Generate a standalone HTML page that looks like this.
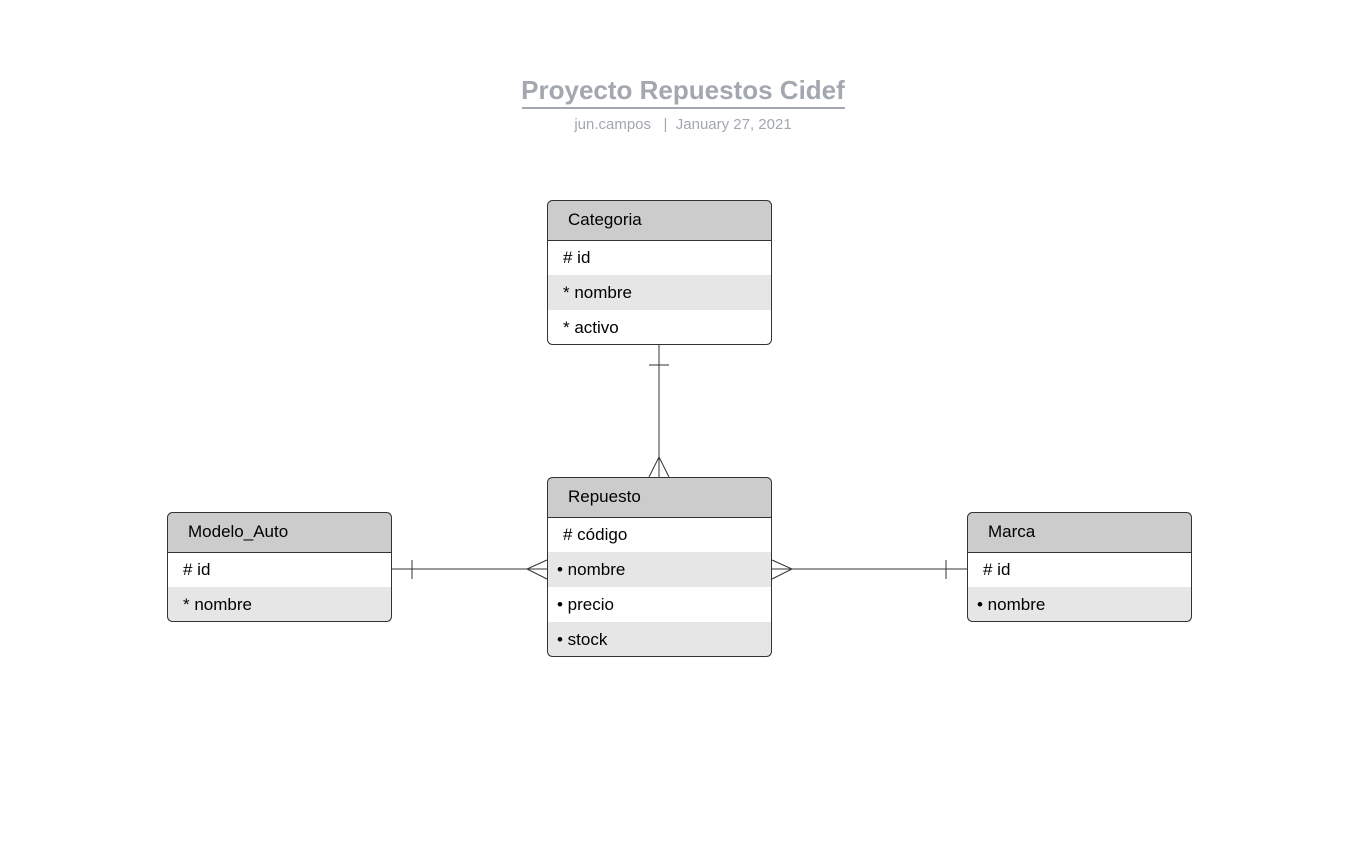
<!DOCTYPE html>
<html><head><style>body{margin:0;background:#fff}</style></head><body>
<svg width="1360" height="836" xmlns="http://www.w3.org/2000/svg" font-family="Liberation Sans, sans-serif">
<rect width="1360" height="836" fill="#fff"/>
<text x="683" y="99" text-anchor="middle" font-size="26" font-weight="bold" fill="#a3a7b0">Proyecto Repuestos Cidef</text>
<line x1="522" y1="108" x2="845" y2="108" stroke="#a3a7b0" stroke-width="2"/>
<text x="683" y="129" text-anchor="middle" font-size="15" fill="#a3a7b0" xml:space="preserve">jun.campos   |  January 27, 2021</text>
<g stroke="#333" stroke-width="1" fill="none">
<line x1="659" y1="345" x2="659" y2="477"/><line x1="649" y1="365" x2="669" y2="365"/>
<polyline points="649,477 659,457 669,477"/>
<line x1="392" y1="569" x2="547" y2="569"/><line x1="412" y1="560" x2="412" y2="579"/>
<polyline points="547,560 527,569 547,579"/>
<line x1="772" y1="569" x2="967" y2="569"/><line x1="946" y1="560" x2="946" y2="579"/>
<polyline points="772,560 792,569 772,579"/>
</g>
<g font-size="17" fill="#000">
<!-- Categoria -->
<rect x="547.5" y="200.5" width="224" height="144" rx="5" fill="#fff"/>
<path d="M547.5 240.5V205.5a5 5 0 0 1 5-5h214a5 5 0 0 1 5 5V240.5Z" fill="#cccccc"/>
<rect x="548" y="275" width="223" height="35" fill="#e6e6e6"/>
<rect x="547.5" y="200.5" width="224" height="144" rx="5" fill="none" stroke="#333"/>
<line x1="547.5" y1="240.5" x2="771.5" y2="240.5" stroke="#333"/>
<text x="568" y="225">Categoria</text>
<text x="563" y="263"># id</text><text x="563" y="298">* nombre</text><text x="563" y="333">* activo</text>
<!-- Repuesto -->
<path d="M547.5 517.5V482.5a5 5 0 0 1 5-5h214a5 5 0 0 1 5 5V517.5Z" fill="#cccccc"/>
<rect x="548" y="552" width="223" height="35" fill="#e6e6e6"/>
<rect x="548" y="622" width="223" height="34" fill="#e6e6e6"/>
<rect x="547.5" y="477.5" width="224" height="179" rx="5" fill="none" stroke="#333"/>
<line x1="547.5" y1="517.5" x2="771.5" y2="517.5" stroke="#333"/>
<text x="568" y="502">Repuesto</text>
<text x="563" y="540"># código</text><text x="557" y="575">• nombre</text><text x="557" y="610">• precio</text><text x="557" y="645">• stock</text>
<!-- Modelo_Auto -->
<path d="M167.5 552.5V517.5a5 5 0 0 1 5-5h214a5 5 0 0 1 5 5V552.5Z" fill="#cccccc"/>
<rect x="168" y="587" width="223" height="34" fill="#e6e6e6"/>
<rect x="167.5" y="512.5" width="224" height="109" rx="5" fill="none" stroke="#333"/>
<line x1="167.5" y1="552.5" x2="391.5" y2="552.5" stroke="#333"/>
<text x="188" y="537">Modelo_Auto</text>
<text x="183" y="575"># id</text><text x="183" y="610">* nombre</text>
<!-- Marca -->
<path d="M967.5 552.5V517.5a5 5 0 0 1 5-5h214a5 5 0 0 1 5 5V552.5Z" fill="#cccccc"/>
<rect x="968" y="587" width="223" height="34" fill="#e6e6e6"/>
<rect x="967.5" y="512.5" width="224" height="109" rx="5" fill="none" stroke="#333"/>
<line x1="967.5" y1="552.5" x2="1191.5" y2="552.5" stroke="#333"/>
<text x="988" y="537">Marca</text>
<text x="983" y="575"># id</text><text x="977" y="610">• nombre</text>
</g>
</svg>
</body></html>
